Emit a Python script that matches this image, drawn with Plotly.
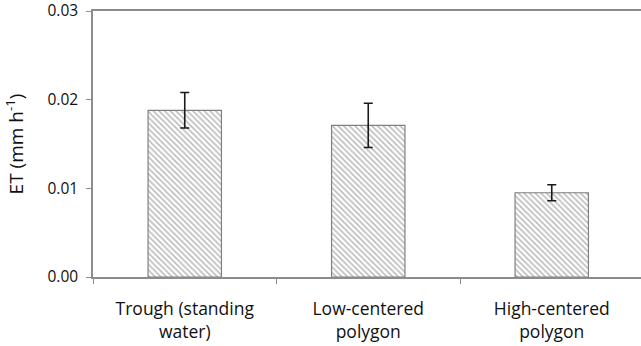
import plotly.graph_objects as go

categories = ["Trough (standing<br>water)", "Low-centered<br>polygon", "High-centered<br>polygon"]
et_values = [0.0188, 0.0171, 0.0095]
et_errors = [0.0020, 0.0025, 0.0009]
y_ticks = [0.00, 0.01, 0.02, 0.03]
y_tick_labels = ["0.00", "0.01", "0.02", "0.03"]

FONT = "Open Sans"
AXIS_COLOR = "#8c8c8c"
TEXT_COLOR = "#111111"

fig = go.Figure()
fig.add_trace(go.Bar(
    x=categories,
    y=et_values,
    error_y=dict(type="data", array=et_errors, visible=True,
                 color="#1a1a1a", thickness=1.6, width=4.5),
    marker=dict(
        color="white",
        line=dict(color="#808080", width=1.2),
        pattern=dict(shape="\\", fgcolor="#7a7a7a", bgcolor="white",
                     size=4, solidity=0.4, fillmode="overlay"),
    ),
))

fig.update_layout(
    width=641, height=346,
    margin=dict(l=93, r=0, t=11, b=69),
    paper_bgcolor="white", plot_bgcolor="white",
    showlegend=False,
    bargap=0.6,
    font=dict(family=FONT, size=15, color=TEXT_COLOR),
)
fig.update_xaxes(
    type="category",
    range=[-0.5, 2.4864],
    showline=True, linecolor=AXIS_COLOR, linewidth=1.5, mirror=True,
    ticks="outside", tickson="boundaries", ticklen=5, tickcolor=AXIS_COLOR, tickwidth=1.2,
    showgrid=False, zeroline=False,
    tickfont=dict(family=FONT, size=17.5, color=TEXT_COLOR),
    ticklabelstandoff=15,
)
fig.update_yaxes(
    range=[0, 0.03],
    tickvals=y_ticks, ticktext=y_tick_labels,
    showline=True, linecolor=AXIS_COLOR, linewidth=1.5,
    ticks="outside", ticklen=5, tickcolor=AXIS_COLOR, tickwidth=1.2,
    showgrid=False, zeroline=False,
    ticklabeloverflow="allow",
    ticklabelstandoff=5,
    tickfont=dict(family=FONT, size=15.5, color=TEXT_COLOR),
    title=dict(text="ET (mm h<sup>-1</sup>)", font=dict(family=FONT, size=19, color=TEXT_COLOR), standoff=19),
)

fig.write_html("out.html", config={"displayModeBar": False},
               post_script="document.body.style.margin='0';")
